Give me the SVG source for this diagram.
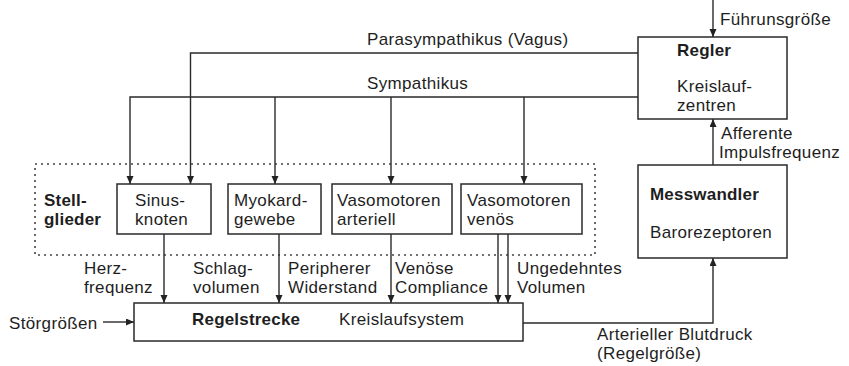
<svg xmlns="http://www.w3.org/2000/svg" width="849" height="366" viewBox="0 0 849 366">
<defs>
<marker id="ah" markerWidth="8" markerHeight="8" refX="8" refY="3.5" orient="auto" markerUnits="userSpaceOnUse">
<path d="M0,0 L8,3.5 L0,7 z" fill="#222"/>
</marker>
<style>
text{font-family:"Liberation Sans",Arial,sans-serif;font-size:17px;letter-spacing:0.35px;fill:#1e1e1e}
.b{font-weight:bold;letter-spacing:0.2px}
.box{fill:#fff;stroke:#2a2a2a;stroke-width:1.5}
.ar{fill:none;stroke:#2a2a2a;stroke-width:1.4;marker-end:url(#ah)}
.dot{fill:none;stroke:#444;stroke-width:1.6;stroke-dasharray:2 4}
</style>
</defs>
<rect width="849" height="366" fill="#fff"/>

<g id="stellglieder-group">
<rect class="dot" x="35" y="164" width="560" height="91"/>
<text class="b" x="44" y="206">Stell-</text>
<text class="b" x="44" y="225">glieder</text>
</g>

<g id="connectors">
<path class="ar" d="M638,53 H190.5 V184"/>
<path class="ar" d="M638,97 H130 V184"/>
<path class="ar" d="M275,97 V184"/>
<path class="ar" d="M391,97 V184"/>
<path class="ar" d="M524,97 V184"/>
<path class="ar" d="M164,234 V303"/>
<path class="ar" d="M279,234 V303"/>
<path class="ar" d="M391,234 V303"/>
<path class="ar" d="M498,234 V303"/>
<path class="ar" d="M508,234 V303"/>
<path class="ar" d="M103,322 H134"/>
<path class="ar" d="M523,323 H713 V258"/>
<path class="ar" d="M713,165 V119"/>
<path class="ar" d="M713,0 V37"/>
<text x="367" y="45">Parasympathikus (Vagus)</text>
<text x="367" y="89">Sympathikus</text>
<text x="720" y="25">Führunsgröße</text>
<text x="721" y="139">Afferente</text>
<text x="719" y="158">Impulsfrequenz</text>
<text x="84" y="274">Herz-</text>
<text x="84" y="293">frequenz</text>
<text x="193" y="274">Schlag-</text>
<text x="193" y="293">volumen</text>
<text x="288" y="274">Peripherer</text>
<text x="288" y="293">Widerstand</text>
<text x="395" y="274">Venöse</text>
<text x="395" y="293">Compliance</text>
<text x="517" y="274">Ungedehntes</text>
<text x="517" y="293">Volumen</text>
<text x="9" y="329">Störgrößen</text>
<text x="597" y="340">Arterieller Blutdruck</text>
<text x="597" y="359">(Regelgröße)</text>
</g>

<g id="regler">
<rect class="box" x="638" y="37" width="149" height="82"/>
<text class="b" x="677" y="56">Regler</text>
<text x="677" y="92">Kreislauf-</text>
<text x="677" y="111">zentren</text>
</g>

<g id="messwandler">
<rect class="box" x="638" y="165" width="149" height="93"/>
<text class="b" x="650" y="200">Messwandler</text>
<text x="650" y="238">Barorezeptoren</text>
</g>

<g id="sinusknoten">
<rect class="box" x="117" y="184" width="94" height="50"/>
<text x="135" y="206">Sinus-</text>
<text x="135" y="225">knoten</text>
</g>

<g id="myokard">
<rect class="box" x="228" y="184" width="93" height="50"/>
<text x="234" y="206">Myokard-</text>
<text x="234" y="225">gewebe</text>
</g>

<g id="vaso-arteriell">
<rect class="box" x="332" y="184" width="120" height="50"/>
<text x="337" y="206">Vasomotoren</text>
<text x="337" y="225">arteriell</text>
</g>

<g id="vaso-venoes">
<rect class="box" x="461" y="184" width="121" height="50"/>
<text x="467" y="206">Vasomotoren</text>
<text x="467" y="225">venös</text>
</g>

<g id="regelstrecke">
<rect class="box" x="134" y="303" width="389" height="38"/>
<text class="b" x="192" y="325">Regelstrecke</text>
<text x="339" y="325">Kreislaufsystem</text>
</g>
</svg>
